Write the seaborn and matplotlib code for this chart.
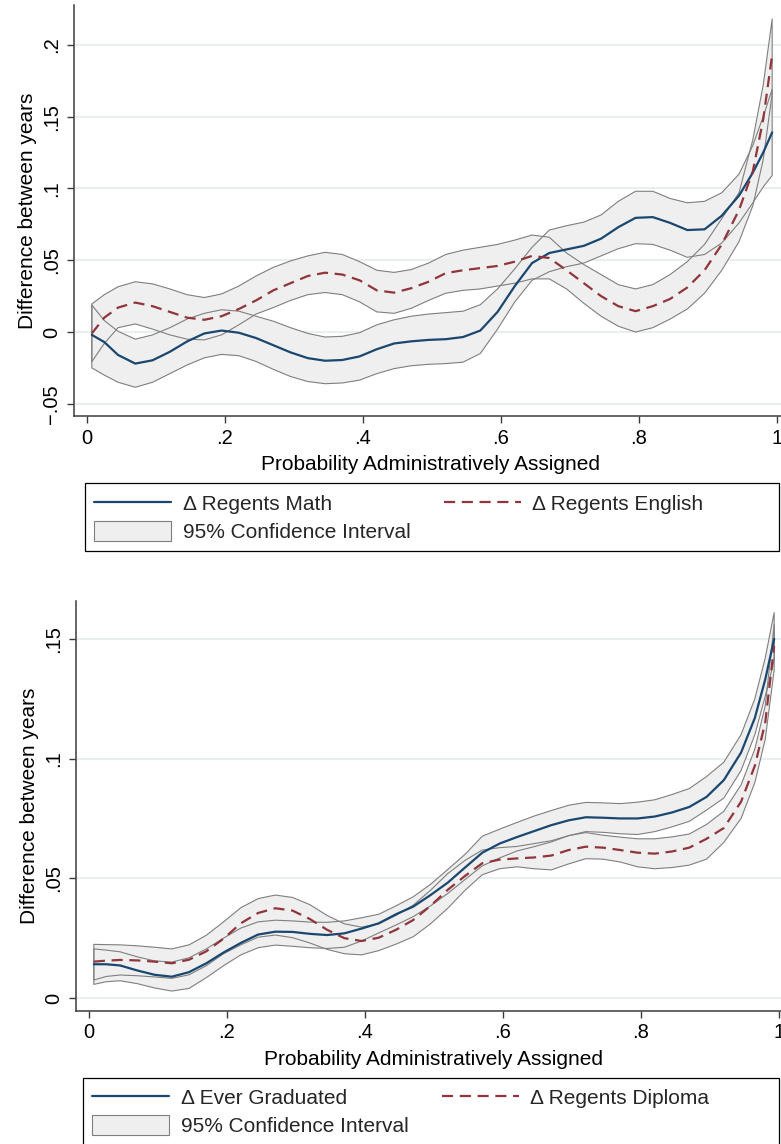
import matplotlib
matplotlib.use("Agg")
import matplotlib.pyplot as plt
from matplotlib.lines import Line2D
from matplotlib.patches import Patch, Rectangle
import seaborn as sns

# ---------------- data ----------------
X_GRID = [0.007, 0.025, 0.045, 0.07, 0.095, 0.12, 0.145, 0.17, 0.195, 0.22,
          0.245, 0.27, 0.295, 0.32, 0.345, 0.37, 0.395, 0.42, 0.445, 0.47,
          0.495, 0.52, 0.545, 0.57, 0.595, 0.62, 0.645, 0.67, 0.695, 0.72,
          0.745, 0.77, 0.795, 0.82, 0.845, 0.87, 0.895, 0.92, 0.945, 0.965,
          0.98, 0.993]

# top panel: Regents Math (solid) and Regents English (dashed)
MATH = [-0.002, -0.007, -0.016, -0.022, -0.0197, -0.0138, -0.0066, -0.001, 0.001, -0.0005,
        -0.0042, -0.0092, -0.0142, -0.0182, -0.0200, -0.0195, -0.0170, -0.0120, -0.0080, -0.0065,
        -0.0055, -0.0050, -0.0035, 0.0010, 0.0140, 0.0320, 0.0480, 0.0550, 0.0575, 0.0600,
        0.0650, 0.0730, 0.0795, 0.0800, 0.0760, 0.0710, 0.0715, 0.0810, 0.0950, 0.1110,
        0.1250, 0.1390]
MATH_HI = [0.0188, 0.0080, 0.0005, -0.0050, -0.0020, 0.0030, 0.0090, 0.0130, 0.0155, 0.0145,
           0.0110, 0.0075, 0.0030, -0.0010, -0.0035, -0.0030, -0.0005, 0.0050, 0.0085, 0.0110,
           0.0125, 0.0135, 0.0145, 0.0190, 0.0300, 0.0440, 0.0590, 0.0710, 0.0740, 0.0765,
           0.0815, 0.0910, 0.0980, 0.0980, 0.0930, 0.0900, 0.0910, 0.0970, 0.1100, 0.1300,
           0.1500, 0.1690]
MATH_LO = [-0.0250, -0.0300, -0.0350, -0.0385, -0.0350, -0.0290, -0.0230, -0.0180, -0.0156, -0.0165,
           -0.0205, -0.0260, -0.0310, -0.0345, -0.0360, -0.0355, -0.0335, -0.0290, -0.0255, -0.0235,
           -0.0225, -0.0220, -0.0210, -0.0150, 0.0020, 0.0210, 0.0360, 0.0420, 0.0455, 0.0480,
           0.0530, 0.0580, 0.0615, 0.0610, 0.0570, 0.0520, 0.0540, 0.0620, 0.0760, 0.0900,
           0.1010, 0.1090]
ENGL = [-0.0010, 0.0100, 0.0170, 0.0205, 0.0180, 0.0140, 0.0100, 0.0085, 0.0110, 0.0160,
        0.0220, 0.0290, 0.0340, 0.0390, 0.0413, 0.0400, 0.0360, 0.0290, 0.0274, 0.0305,
        0.0350, 0.0410, 0.0430, 0.0445, 0.0460, 0.0490, 0.0530, 0.0515, 0.0430, 0.0340,
        0.0250, 0.0180, 0.0145, 0.0180, 0.0230, 0.0310, 0.0430, 0.0610, 0.0850, 0.1120,
        0.1480, 0.1930]
ENGL_HI = [0.0195, 0.0260, 0.0315, 0.0350, 0.0335, 0.0300, 0.0260, 0.0240, 0.0265, 0.0320,
           0.0390, 0.0450, 0.0495, 0.0530, 0.0555, 0.0540, 0.0490, 0.0430, 0.0415, 0.0435,
           0.0480, 0.0540, 0.0570, 0.0590, 0.0610, 0.0640, 0.0675, 0.0660, 0.0550, 0.0470,
           0.0400, 0.0330, 0.0300, 0.0330, 0.0400, 0.0490, 0.0610, 0.0790, 0.0970, 0.1340,
           0.1720, 0.2180]
ENGL_LO = [-0.0207, -0.0080, 0.0030, 0.0056, 0.0020, -0.0020, -0.0050, -0.0055, -0.0020, 0.0050,
           0.0125, 0.0170, 0.0220, 0.0260, 0.0275, 0.0260, 0.0210, 0.0140, 0.0130, 0.0165,
           0.0220, 0.0270, 0.0290, 0.0300, 0.0320, 0.0340, 0.0370, 0.0370, 0.0300, 0.0200,
           0.0110, 0.0040, 0.0000, 0.0030, 0.0090, 0.0160, 0.0270, 0.0430, 0.0630, 0.0880,
           0.1200, 0.1660]

# bottom panel: Ever Graduated (solid) and Regents Diploma (dashed)
GRAD = [0.0141, 0.0141, 0.0136, 0.0115, 0.0097, 0.0089, 0.0108, 0.0145, 0.0190, 0.0230,
        0.0265, 0.0277, 0.0276, 0.0268, 0.0263, 0.0270, 0.0290, 0.0312, 0.0350, 0.0382,
        0.0430, 0.0482, 0.0545, 0.0607, 0.0645, 0.0672, 0.0697, 0.0722, 0.0742, 0.0755,
        0.0753, 0.0750, 0.0750, 0.0758, 0.0775, 0.0798, 0.0840, 0.0910, 0.1025, 0.1170,
        0.1330, 0.1500]
GRAD_HI = [0.0205, 0.0200, 0.0193, 0.0172, 0.0155, 0.0150, 0.0168, 0.0205, 0.0250, 0.0292,
           0.0318, 0.0325, 0.0322, 0.0317, 0.0316, 0.0322, 0.0335, 0.0350, 0.0385, 0.0423,
           0.0475, 0.0537, 0.0600, 0.0676, 0.0705, 0.0733, 0.0760, 0.0783, 0.0805, 0.0817,
           0.0815, 0.0812, 0.0818, 0.0828, 0.0850, 0.0875, 0.0925, 0.0985, 0.1100, 0.1250,
           0.1420, 0.1610]
GRAD_LO = [0.0057, 0.0068, 0.0072, 0.0060, 0.0042, 0.0029, 0.0040, 0.0085, 0.0135, 0.0180,
           0.0210, 0.0221, 0.0216, 0.0210, 0.0207, 0.0212, 0.0238, 0.0272, 0.0305, 0.0340,
           0.0385, 0.0437, 0.0495, 0.0552, 0.0585, 0.0614, 0.0632, 0.0652, 0.0678, 0.0695,
           0.0692, 0.0686, 0.0683, 0.0695, 0.0715, 0.0738, 0.0785, 0.0835, 0.0950, 0.1100,
           0.1260, 0.1410]
DIPL = [0.0152, 0.0156, 0.0159, 0.0157, 0.0152, 0.0145, 0.0160, 0.0195, 0.0248, 0.0312,
        0.0355, 0.0375, 0.0365, 0.0330, 0.0285, 0.0250, 0.0238, 0.0252, 0.0285, 0.0326,
        0.0385, 0.0452, 0.0510, 0.0563, 0.0578, 0.0583, 0.0587, 0.0595, 0.0618, 0.0632,
        0.0628, 0.0618, 0.0607, 0.0603, 0.0612, 0.0628, 0.0665, 0.0710, 0.0820, 0.0970,
        0.1150, 0.1470]
DIPL_HI = [0.0224, 0.0223, 0.0222, 0.0218, 0.0212, 0.0205, 0.0222, 0.0262, 0.0318, 0.0377,
           0.0415, 0.0430, 0.0420, 0.0390, 0.0345, 0.0310, 0.0296, 0.0310, 0.0345, 0.0388,
           0.0450, 0.0520, 0.0575, 0.0618, 0.0628, 0.0633, 0.0645, 0.0657, 0.0678, 0.0691,
           0.0680, 0.0672, 0.0665, 0.0665, 0.0673, 0.0685, 0.0725, 0.0780, 0.0890, 0.1040,
           0.1220, 0.1560]
DIPL_LO = [0.0075, 0.0090, 0.0096, 0.0093, 0.0088, 0.0082, 0.0097, 0.0135, 0.0185, 0.0222,
           0.0254, 0.0263, 0.0252, 0.0230, 0.0203, 0.0185, 0.0180, 0.0198, 0.0225, 0.0256,
           0.0310, 0.0375, 0.0450, 0.0515, 0.0540, 0.0548, 0.0540, 0.0535, 0.0560, 0.0582,
           0.0580, 0.0568, 0.0548, 0.0540, 0.0545, 0.0555, 0.0580, 0.0650, 0.0750, 0.0900,
           0.1080, 0.1370]

X_TICKS = [0, 0.2, 0.4, 0.6, 0.8, 1.0]
X_TICKLABELS = ["0", ".2", ".4", ".6", ".8", "1"]
TOP_Y_TICKS = [-0.05, 0, 0.05, 0.1, 0.15, 0.2]
TOP_Y_TICKLABELS = ["\u2212.05", "0", ".05", ".1", ".15", ".2"]
BOT_Y_TICKS = [0, 0.05, 0.1, 0.15]
BOT_Y_TICKLABELS = ["0", ".05", ".1", ".15"]

X_LABEL = "Probability Administratively Assigned"
Y_LABEL = "Difference between years"
TOP_LEGEND = ["\u0394 Regents Math", "\u0394 Regents English", "95% Confidence Interval"]
BOT_LEGEND = ["\u0394 Ever Graduated", "\u0394 Regents Diploma", "95% Confidence Interval"]

# ---------------- style ----------------
sns.set_theme(style="white")
plt.rcParams["font.family"] = ["Liberation Sans", "DejaVu Sans"]

BLUE = "#1a476f"
RED = "#90353b"
FILL = "#efefef"
EDGE = "#7f7f7f"
GRID = "#e8eff1"
SPINE = "#3c3c3c"
DASH = (0, (5, 3))

W, H = 781, 1144
fig = plt.figure(figsize=(W / 100, H / 100), dpi=100)
fig.patch.set_facecolor("white")


def fig_rect(x0, y0, x1, y1):
    """pixel box (top-left origin) -> figure fraction [l, b, w, h]"""
    return [x0 / W, 1 - y1 / H, (x1 - x0) / W, (y1 - y0) / H]


def panel(ax, c1, lo1, hi1, c2, lo2, hi2, yticks, ylabels, xlim, ylim):
    x = X_GRID
    ax.fill_between(x, lo1, hi1, facecolor=FILL, edgecolor="none", lw=0, zorder=2)
    ax.fill_between(x, lo2, hi2, facecolor=FILL, edgecolor="none", lw=0, zorder=2)
    ax.fill_between(x, lo1, hi1, facecolor="none", edgecolor=EDGE, lw=0.8, zorder=3)
    ax.fill_between(x, lo2, hi2, facecolor="none", edgecolor=EDGE, lw=0.8, zorder=3)
    sns.lineplot(x=x, y=c1, ax=ax, color=BLUE, lw=1.6, estimator=None, sort=False, zorder=4)
    sns.lineplot(x=x, y=c2, ax=ax, color=RED, lw=1.6, estimator=None, sort=False,
                 linestyle=DASH, zorder=4)
    ax.set_xlim(*xlim)
    ax.set_ylim(*ylim)
    ax.set_xticks(X_TICKS, X_TICKLABELS)
    ax.set_yticks(yticks, ylabels, rotation=90, va="center")
    for y in yticks:
        ax.axhline(y, color=GRID, lw=1.5, zorder=1)
    for side in ("top", "right"):
        ax.spines[side].set_visible(False)
    for side in ("left", "bottom"):
        ax.spines[side].set_color(SPINE)
        ax.spines[side].set_linewidth(1.1)
    ax.tick_params(axis="both", which="major", bottom=True, left=True, direction="out",
                   length=5, width=1, color=SPINE, labelsize=14.5, pad=4, labelcolor="black")
    ax.set_xlabel(X_LABEL, fontsize=15, labelpad=5.5, color="black")
    ax.set_ylabel(Y_LABEL, fontsize=15, labelpad=4, color="black")
    ax.set_facecolor("white")


ax1 = fig.add_axes(fig_rect(74, 5, 788, 416))
panel(ax1, MATH, MATH_LO, MATH_HI, ENGL, ENGL_LO, ENGL_HI,
      TOP_Y_TICKS, TOP_Y_TICKLABELS,
      ((74 - 87) / 690, (788 - 87) / 690), ((332 - 416) / 1436, (332 - 5) / 1436))

ax2 = fig.add_axes(fig_rect(76, 601, 791, 1011))
panel(ax2, GRAD, GRAD_LO, GRAD_HI, DIPL, DIPL_LO, DIPL_HI,
      BOT_Y_TICKS, BOT_Y_TICKLABELS,
      ((76 - 89) / 690, (791 - 89) / 690), ((998 - 1011) / 2394, (998 - 601) / 2394))


def legend(labels, box, anchor):
    handles = [Line2D([], [], color=BLUE, lw=1.6),
               Patch(facecolor=FILL, edgecolor=EDGE, lw=0.8),
               Line2D([], [], color=RED, lw=1.6, linestyle=DASH)]
    lab = [labels[0], labels[2], labels[1]]
    fig.legend(handles, lab, ncol=2, loc="upper left",
               bbox_to_anchor=(anchor[0] / W, 1 - anchor[1] / H),
               bbox_transform=fig.transFigure, frameon=False, fontsize=15,
               handlelength=3.7, handleheight=1.1, handletextpad=0.55,
               columnspacing=1.6, labelspacing=0.35, borderpad=0, borderaxespad=0)
    x0, y0, x1, y1 = box
    fig.add_artist(Rectangle((x0 / W, 1 - y1 / H), (x1 - x0) / W, (y1 - y0) / H,
                             transform=fig.transFigure, fill=False,
                             edgecolor="black", lw=0.9))


legend(TOP_LEGEND, (85, 483, 779, 551), (94, 493))
legend(BOT_LEGEND, (83, 1078, 779, 1150), (92, 1087))

fig.savefig("out.png", dpi=100, facecolor="white")
